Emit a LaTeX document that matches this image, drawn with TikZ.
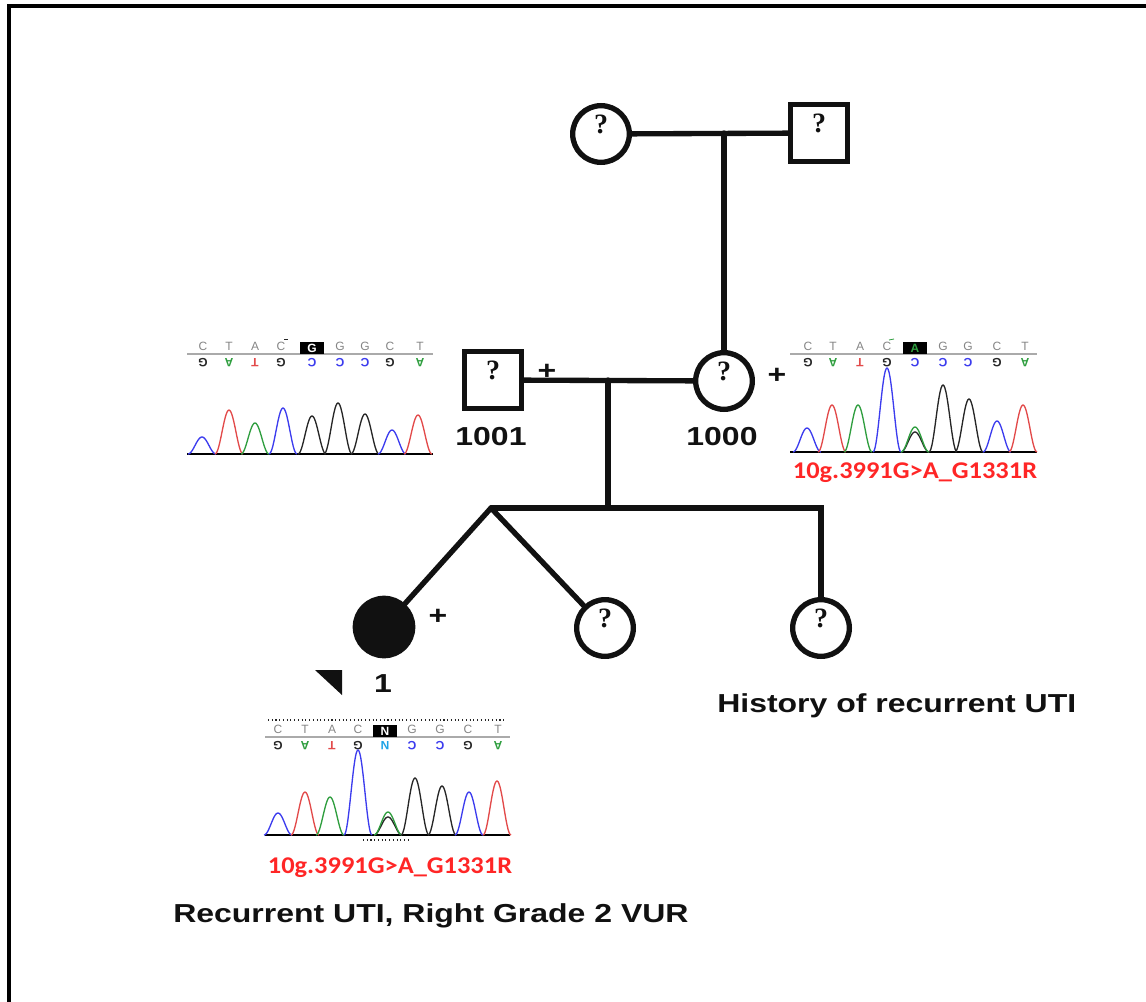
\documentclass[tikz,border=0pt]{standalone}
\usepackage{fontspec}
\newfontfamily\pedfont[FakeStretch=1.23]{Liberation Sans}
\newfontfamily\mutfont[FakeStretch=1.1]{Carlito}
\newfontfamily\qmfont{Liberation Serif}
\newfontfamily\seqfont{Liberation Sans}
\usetikzlibrary{positioning}
\definecolor{PedInk}{HTML}{111111}
\definecolor{SeqBlue}{HTML}{3C3CEE}
\definecolor{SeqRed}{HTML}{E24A4A}
\definecolor{SeqGreen}{HTML}{2F9E3F}
\definecolor{SeqBlack}{HTML}{262626}
\definecolor{SeqGray}{HTML}{858585}
\definecolor{SeqCyan}{HTML}{1CA2E6}
\definecolor{MutRed}{HTML}{FF2626}
\tikzset{
  female/.style={
    circle,
    draw=PedInk,
    line width=4pt,
    minimum size=42.5pt,
    inner sep=0pt,
    text=PedInk,
    text depth=14pt,
    font=\qmfont\bfseries\fontsize{21}{21}\selectfont
  },
  male/.style={
    female,
    rectangle
  },
  affected/.style={
    female,
    fill=PedInk,
    minimum size=43pt
  },
  pedline/.style={
    line width=4pt,
    line cap=round,
    line join=miter,
    color=PedInk
  },
  idtag/.style={
    font=\pedfont\bfseries\fontsize{19.5}{19.5}\selectfont,
    text=PedInk,
    anchor=base,
    inner sep=0pt
  },
  carrier/.style={
    font=\pedfont\bfseries\fontsize{19.5}{19.5}\selectfont,
    text=PedInk,
    inner sep=0pt
  },
  mutlabel/.style={
    font=\mutfont\bfseries\fontsize{18}{18}\selectfont,
    text=MutRed,
    anchor=base,
    inner sep=0pt
  },
  seqtop/.style={
    font=\seqfont\fontsize{9}{9}\selectfont,
    text=SeqGray,
    inner sep=0pt
  },
  seqbot/.style={
    font=\seqfont\bfseries\fontsize{9}{9}\selectfont,
    rotate=180,
    inner sep=0pt
  },
  seqcall/.style={
    fill=black,
    minimum width=18pt,
    minimum height=9pt,
    inner sep=0pt,
    font=\seqfont\bfseries\fontsize{9}{9}\selectfont
  },
  trace/.style={line width=1pt},
  seqrule/.style={line width=1.5pt,color=SeqGray!70},
  seqbase/.style={line width=1.3pt,color=black}
}

\begin{document}
\begin{tikzpicture}[x=0.75pt,y=-0.75pt]
  \useasboundingbox (0,0) rectangle (1146,1002);
  \draw[line width=3pt] (9,1004) -- (9,6) -- (1148,6);

  % pedigree
  \node[female] (gma) at (601,134) {?};
  \node[male] (gpa) at (819,133) {?};
  \node[male] (dad) at (493,380) {?};
  \node[female] (mom) at (724,381) {?};
  \node[affected] (pro) at (384,627) {};
  \node[female] (sis) at (605,628) {?};
  \node[female] (sib) at (821,628) {?};

  \coordinate (gdesc) at (724,133);
  \coordinate (pdesc) at (608,380);
  \coordinate (sibtop) at (608,508);
  \coordinate (sibl) at (491,508);
  \coordinate (sibr) at (821,508);

  \draw[pedline] (gma) -- (gpa);
  \draw[pedline] (gdesc) -- (mom);
  \draw[pedline] (dad) -- (mom);
  \draw[pedline] (pdesc) -- (sibtop);
  \draw[pedline] (sibl) -- (sibr) -- (sib);
  \draw[pedline] (sibl) -- (pro);
  \draw[pedline] (sibl) -- (sis);

  \node[carrier] (dadplus) at (547,372) {+};
  \node[carrier] (momplus) at (777,376) {+};
  \node[carrier] (proplus) at (438,617) {+};
  \node[idtag] (dadid) at (491,445) {1001};
  \node[idtag] (momid) at (722,445) {1000};
  \node[idtag] (proid) at (383,692) {1};
  \fill[PedInk] (315,670) -- (342,670) -- (342,695) -- cycle;

  \node[idtag,anchor=base west] (histnote) at (717,712)
    {History of recurrent UTI};
  \node[idtag,anchor=base west] (pronote) at (173,922)
    {Recurrent UTI, Right Grade 2 VUR};

  % trace of 1001
  \draw[seqrule] (187,354) -- (433,354);
  \draw[seqbase] (187,454) -- (433,454);
  \node[seqcall,text=white] (dadcall) at (312,348) {G};
  \foreach \x/\t/\b/\c [count=\i] in {203/C/G/SeqBlack,229/T/A/SeqGreen,
      255/A/T/SeqRed,281/C/G/SeqBlack,340/G/C/SeqBlue,365/G/C/SeqBlue,
      390/C/G/SeqBlack,420/T/A/SeqGreen} {
    \node[seqtop] (dadt\i) at (\x,346) {\t};
    \node[seqbot,text=\c] (dadb\i) at (\x,363) {\b};
  }
  \node[seqbot,text=SeqBlue] (dadb9) at (312,363) {C};
  \draw[SeqBlack,line width=0.6pt] (284,339) -- (288,339);
  \foreach \p/\h/\c in {202/17/SeqBlue,229/44/SeqRed,255/31/SeqGreen,
      283/46/SeqBlue,312/38/SeqBlack,338/51/SeqBlack,365/40/SeqBlack,
      392/24/SeqBlue,418/39/SeqRed}
    \draw[trace,\c] plot[domain=-14:14,samples=31,smooth]
      ({\p+\x},{454-\h*(0.5+0.5*cos(180*\x/14))});

  % trace of 1000
  \draw[seqrule] (790,354) -- (1037,354);
  \draw[seqbase] (790,452) -- (1037,452);
  \node[seqcall,text=SeqGreen] (momcall) at (915,348) {A};
  \foreach \x/\t/\b/\c [count=\i] in {808/C/G/SeqBlack,833/T/A/SeqGreen,
      860/A/T/SeqRed,887/C/G/SeqBlack,943/G/C/SeqBlue,968/G/C/SeqBlue,
      997/C/G/SeqBlack,1025/T/A/SeqGreen} {
    \node[seqtop] (momt\i) at (\x,346) {\t};
    \node[seqbot,text=\c] (momb\i) at (\x,363) {\b};
  }
  \node[seqbot,text=SeqBlue] (momb9) at (915,363) {C};
  \draw[SeqGreen,line width=0.6pt] (889,340) -- (894,339);
  \foreach \p/\h/\c in {807/24/SeqBlue,832/47/SeqRed,858/47/SeqGreen,
      887/84/SeqBlue,915/20/SeqBlack,915/25/SeqGreen,943/67/SeqBlack,
      969/53/SeqBlack,997/31/SeqBlue,1023/47/SeqRed}
    \draw[trace,\c] plot[domain=-14:14,samples=31,smooth]
      ({\p+\x},{452-\h*(0.5+0.5*cos(180*\x/14))});
  \node[mutlabel] (mommut) at (915,478) {10g.3991G>A\_G1331R};

  % trace of 1
  \draw[dotted,SeqBlack,line width=0.8pt] (268,720) -- (505,720);
  \draw[seqrule] (265,737) -- (510,737);
  \draw[seqbase] (265,835) -- (510,835);
  \draw[dotted,SeqBlack,line width=0.8pt] (363,840) -- (408,840);
  \node[seqcall,text=white] (procall) at (385,731) {N};
  \foreach \x/\t/\b/\c [count=\i] in {278/C/G/SeqBlack,305/T/A/SeqGreen,
      332/A/T/SeqRed,358/C/G/SeqBlack,412/G/C/SeqBlue,440/G/C/SeqBlue,
      468/C/G/SeqBlack,498/T/A/SeqGreen} {
    \node[seqtop] (prot\i) at (\x,729) {\t};
    \node[seqbot,text=\c] (prob\i) at (\x,746) {\b};
  }
  \node[seqbot,text=SeqCyan] (prob9) at (385,746) {N};
  \foreach \p/\h/\c in {278/22/SeqBlue,305/43/SeqRed,330/38/SeqGreen,
      358/85/SeqBlue,388/18/SeqBlack,388/23/SeqGreen,415/57/SeqBlack,
      442/49/SeqBlack,469/43/SeqBlue,497/54/SeqRed}
    \draw[trace,\c] plot[domain=-14:14,samples=31,smooth]
      ({\p+\x},{835-\h*(0.5+0.5*cos(180*\x/14))});
  \node[mutlabel] (promut) at (390,873) {10g.3991G>A\_G1331R};
\end{tikzpicture}
\end{document}
